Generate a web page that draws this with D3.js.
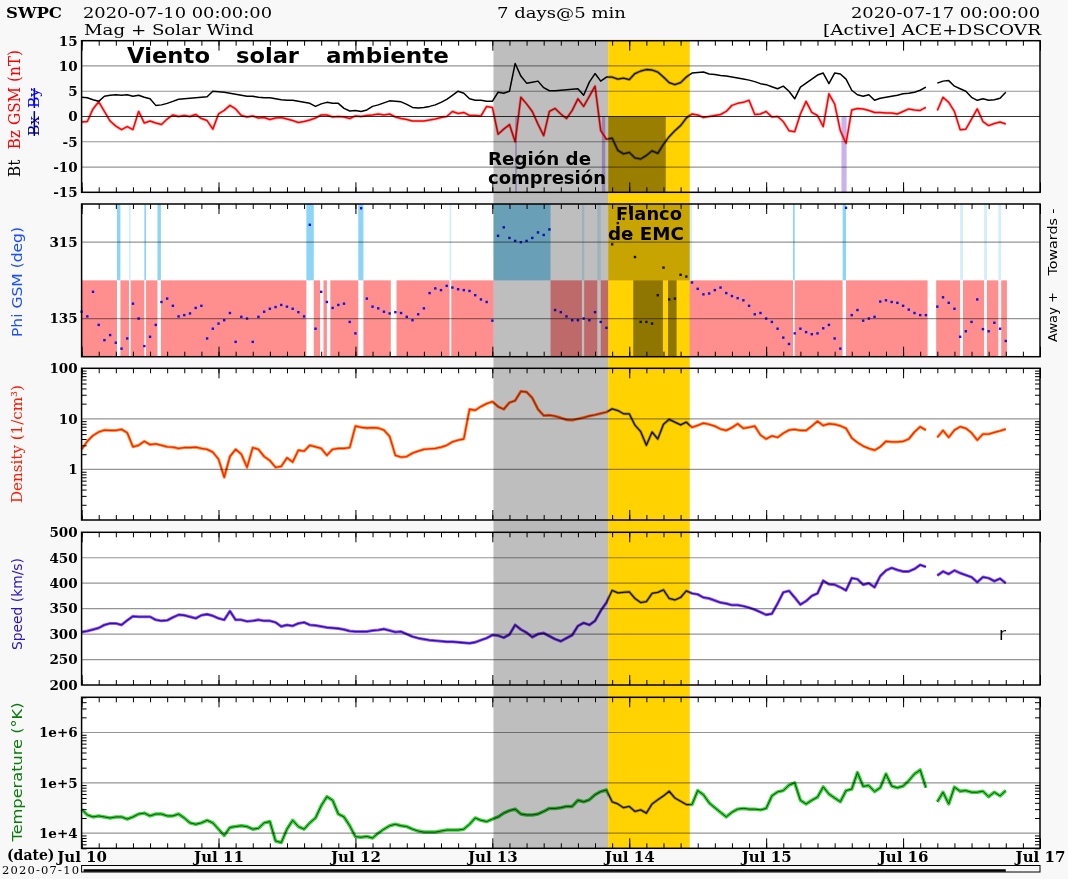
<!DOCTYPE html>
<html>
<head>
<meta charset="utf-8">
<script src="https://cdn.jsdelivr.net/npm/d3@7"></script>
<style>
  body { margin: 0; background: #f8f8f8; }
  svg { display: block; }
</style>
</head>
<body>
<svg id="chart" width="1068" height="879"></svg>
<script>
// hours since 2020-07-10 00:00 UT, one value per hour
var hours = d3.range(0, 163);

var bt = [3.8,3.7,3.3,3.0,4.0,4.2,4.3,4.2,4.3,4.0,
  4.2,3.8,3.5,2.2,2.3,2.6,3.0,3.4,3.5,3.6,
  3.7,3.8,3.9,5.0,4.9,4.8,4.6,4.4,4.2,4.0,
  4.0,3.8,3.7,3.7,3.5,3.3,3.2,3.2,3.0,2.8,
  2.6,2.0,2.5,2.8,2.6,2.6,1.6,1.1,1.2,1.0,
  1.3,2.0,2.3,2.7,3.1,3.0,2.9,2.4,1.8,1.7,
  1.8,2.0,2.3,2.8,3.4,4.2,5.0,4.6,3.5,3.2,
  3.2,3.0,3.0,4.8,4.6,5.0,10.5,8.0,6.6,6.8,
  7.0,5.7,5.1,5.1,5.2,5.3,5.4,5.5,4.2,6.8,
  8.5,7.0,7.8,7.8,7.4,7.6,7.3,8.5,9.0,9.3,
  9.2,8.8,7.8,6.7,6.3,6.7,7.8,8.6,8.7,8.8,
  8.4,8.3,8.1,8.0,7.8,7.6,7.4,7.2,6.9,6.5,
  6.3,5.9,5.5,6.0,5.0,3.5,5.8,6.6,7.4,8.2,
  8.6,6.5,8.6,8.4,7.4,5.2,4.3,4.0,4.3,3.2,
  3.6,3.8,4.0,4.2,4.5,4.6,4.8,5.2,5.8,null,
  6.6,7.0,7.1,6.0,5.5,5.0,3.8,3.2,3.5,3.2,
  3.3,3.6,4.8];

var bz = [-1.1,-1.0,1.5,2.9,1.0,-0.9,-1.9,-2.6,-2.0,-2.6,
  1.0,-1.3,-0.9,-1.3,-1.6,-0.5,0.3,0.0,0.2,0.0,
  0.4,-0.4,-0.8,-2.5,0.5,1.2,2.2,1.5,0.2,-0.1,
  0.1,-0.3,-0.2,-0.6,-0.3,-0.2,-0.5,-0.8,-1.2,-1.0,
  -0.7,-0.3,0.3,0.3,-0.1,0.0,-0.1,-0.4,0.1,0.0,
  0.2,0.3,0.5,0.3,0.5,-0.1,-0.4,-0.6,-0.9,-0.9,
  -0.9,-0.7,-0.5,-0.2,0.0,1.0,0.6,0.8,0.2,0.2,
  0.1,2.0,1.8,-3.5,-2.5,-1.6,-5.0,3.8,2.5,1.0,
  -1.5,-3.8,1.0,1.6,0.5,-0.4,1.2,3.5,2.0,4.0,
  6.0,-2.8,-4.5,-4.3,-6.7,-7.4,-7.1,-8.2,-8.4,-7.7,
  -6.8,-7.3,-5.5,-4.0,-2.8,-1.8,-0.3,0.5,0.3,-0.2,
  0.0,0.2,0.4,1.0,2.2,2.6,2.8,3.2,0.4,0.5,
  1.0,-0.1,0.0,-1.0,-2.8,-3.0,0.5,3.0,0.8,0.2,
  -2.0,4.5,2.5,-2.8,-5.3,1.3,1.6,1.5,1.2,0.8,
  0.8,0.7,0.7,0.5,1.0,1.5,1.3,1.2,1.8,null,
  1.2,3.8,2.8,1.0,-2.6,-2.5,-0.5,1.5,-1.0,-1.8,
  -1.4,-1.1,-1.5];

var phi = [151,140,198,120,84,96,78,64,88,170,
  135,70,92,120,174,182,165,140,143,147,
  160,165,88,111,123,131,148,80,139,135,
  80,139,151,158,162,167,163,158,150,140,
  356,111,198,174,160,167,170,127,100,395,
  182,163,159,151,147,150,148,139,131,145,
  159,195,206,202,212,208,204,202,200,190,
  180,174,130,330,350,325,318,315,318,325,
  338,332,345,155,150,140,131,131,135,131,
  150,127,113,310,360,370,330,280,127,127,
  123,190,255,180,182,238,234,220,205,192,
  194,202,208,195,188,183,178,165,145,148,
  135,127,111,90,75,100,111,103,98,100,
  112,120,88,64,396,143,155,130,135,139,
  175,178,174,172,165,156,148,143,143,null,
  163,185,172,158,92,105,127,180,110,105,
  125,111,82];

var density = [2.5,3.6,4.7,5.5,6.0,5.9,5.9,6.2,5.3,2.8,
  3.0,3.6,3.1,3.2,3.0,2.8,2.75,2.6,2.7,2.7,
  2.75,2.6,2.5,2.2,1.6,0.7,1.8,2.5,2.0,1.1,
  2.7,2.5,1.8,1.5,1.1,1.15,1.7,1.4,2.4,2.3,
  3.0,2.8,2.6,1.9,2.5,2.6,2.6,2.7,7.2,6.8,
  6.6,6.7,6.6,6.0,4.5,1.9,1.75,1.8,2.1,2.3,
  2.5,2.55,2.6,2.75,3.0,3.5,3.8,4.0,15.5,14.8,
  17.5,20,22,17.5,15.5,21,23,35,34,26,
  15.5,11.6,11.8,11.3,10.5,9.6,9.4,10.0,10.6,11.4,
  12.0,12.8,13.6,15.8,14.6,12.6,12.6,7.5,5.6,3.0,
  5.5,4.0,7.8,9.8,8.6,7.6,8.6,6.8,7.4,8.2,
  7.8,7.2,6.3,5.9,6.7,8.0,6.5,6.8,7.2,4.8,
  4.0,4.6,4.3,5.2,6.0,6.2,5.9,5.9,7.2,9.0,
  7.4,8.0,7.8,7.3,6.5,4.2,3.4,2.9,2.6,2.4,
  2.8,3.6,3.5,3.5,3.6,4.0,5.5,7.0,6.0,null,
  4.3,5.9,4.3,6.0,7.0,6.5,5.3,3.8,5.0,5.0,
  5.4,5.8,6.3];

var speed = [304,306,309,312,318,321,321,318,327,335,
  334,334,334,328,326,327,333,338,337,334,
  331,337,339,336,331,328,345,328,328,325,
  326,328,326,326,323,315,318,316,321,323,
  318,317,315,313,312,311,309,306,305,305,
  305,307,308,310,307,304,305,300,295,292,
  290,288,287,286,285,285,284,283,282,284,
  288,292,298,297,293,299,318,309,303,294,
  300,302,296,290,286,292,298,316,322,318,
  326,346,362,386,381,382,383,370,362,364,
  380,382,387,370,367,372,385,380,378,372,
  370,366,362,360,357,357,355,352,348,343,
  338,340,360,382,385,372,358,365,375,380,
  405,398,397,392,386,410,408,397,400,392,
  414,425,430,426,423,423,428,436,432,null,
  415,423,418,425,420,416,412,402,412,410,
  404,409,400];

var temperature = [3.0e4,2.3e4,2.1e4,2.2e4,2.1e4,2.0e4,2.1e4,2.1e4,1.9e4,2.1e4,
  2.4e4,2.5e4,2.2e4,2.4e4,2.4e4,2.2e4,2.2e4,2.4e4,2.0e4,1.6e4,
  1.5e4,1.6e4,1.8e4,1.6e4,1.2e4,0.9e4,1.3e4,1.35e4,1.4e4,1.35e4,
  1.2e4,1.25e4,1.6e4,1.7e4,7.0e3,6.5e3,1.2e4,1.8e4,1.35e4,1.2e4,
  1.6e4,2.0e4,3.5e4,5.3e4,4.5e4,2.4e4,2.1e4,1.4e4,8.5e3,8.3e3,
  8.6e3,8.0e3,1.0e4,1.2e4,1.4e4,1.5e4,1.4e4,1.35e4,1.2e4,1.1e4,
  1.05e4,1.05e4,1.05e4,1.1e4,1.15e4,1.15e4,1.15e4,1.2e4,1.5e4,2.0e4,
  1.8e4,1.7e4,1.9e4,2.1e4,2.5e4,2.8e4,3.0e4,2.4e4,2.3e4,2.3e4,
  2.4e4,2.7e4,3.1e4,3.1e4,3.2e4,3.4e4,3.4e4,4.5e4,4.2e4,4.6e4,
  5.8e4,6.7e4,7.2e4,4.2e4,3.8e4,3.2e4,3.4e4,2.7e4,2.9e4,2.5e4,
  3.8e4,4.6e4,5.5e4,6.8e4,5.0e4,4.3e4,3.7e4,3.7e4,7.0e4,5.8e4,
  4.0e4,3.2e4,2.6e4,2.1e4,2.6e4,3.0e4,3.1e4,3.0e4,3.0e4,2.9e4,
  3.1e4,5.5e4,6.6e4,7.0e4,9.0e4,1.0e5,4.5e4,3.8e4,4.5e4,5.2e4,
  8.3e4,6.0e4,5.0e4,4.2e4,7.0e4,7.5e4,1.6e5,8.5e4,8.8e4,6.7e4,
  8.0e4,1.5e5,8.6e4,8.0e4,8.6e4,1.1e5,1.5e5,1.8e5,8.0e4,null,
  4.2e4,6.5e4,3.8e4,8.2e4,6.8e4,7.0e4,6.5e4,6.5e4,6.8e4,5.3e4,
  6.5e4,5.5e4,7.0e4];

// IMF sector and southward-Bz intervals, [start hour, end hour]
var awaySectors = [[0,6.2],[6.8,8.3],[8.6,11.0],[11.3,13.3],[13.9,39.4],[40.7,41.8],[42.4,43.0],
  [43.6,48.5],[49.4,54.2],[55.2,64.5],[64.8,72.2],[82.2,87.7],[88.1,90.4],[91.0,92.3],
  [96.7,101.9],[102.8,104.3],[106.6,124.7],[125.0,133.4],[134.0,148.3],[149.8,154.0],
  [154.5,158.2],[158.7,160.7],[161.2,162.2]];
var towardsSectors = [[6.2,6.8],[11.0,11.3],[13.3,13.9],[39.4,40.7],[48.5,49.4],[72.2,82.2],
  [92.3,106.6],[124.7,125.0],[133.4,134.0]];
var towardsFaint = [[8.3,8.6],[64.5,64.8],[87.7,88.1],[90.4,91.0],[106.6,107.0],
  [154.0,154.5],[158.2,158.7],[160.7,161.2]];
var bzSouth = [[76.0,76.3],[91.2,91.8],[92.3,102.4],[133.2,134.1]];

var compressionRegion = [72.2, 92.3];
var cmeFlank = [92.3, 106.6];

var dayLabels = ["Jul 10","Jul 11","Jul 12","Jul 13","Jul 14","Jul 15","Jul 16","Jul 17"];
var bzTicks = [15,10,5,0,-5,-10,-15];
var phiTicks = [315,135];
var densityTicks = [100,10,1];
var speedTicks = [500,450,400,350,300,250,200];
var tempTicks = [1e6,1e5,1e4];

var W = 1068, H = 879;
var svg = d3.select("#chart");
svg.append("rect").attr("width", W).attr("height", H).attr("fill", "#f8f8f8");

var x = d3.scaleLinear().domain([0, 168]).range([81.6, 1040]);

var panels = [
  { top: 40.7, bottom: 192.3, y: d3.scaleLinear().domain([-15, 15]), ticks: bzTicks, grid: [10,5,0,-5,-10] },
  { top: 204, bottom: 356.7, y: d3.scaleLinear().domain([45, 405]), ticks: phiTicks, grid: phiTicks },
  { top: 368.3, bottom: 520, y: d3.scaleLog().domain([0.1, 100]), ticks: densityTicks, grid: [10,1], log: true },
  { top: 532.3, bottom: 685, y: d3.scaleLinear().domain([200, 500]), ticks: speedTicks, grid: [450,400,350,300,250] },
  { top: 697.3, bottom: 848.3, y: d3.scaleLog().domain([5e3, 5e6]), ticks: tempTicks, grid: tempTicks, log: true,
    fmt: function (d) { return "1e+" + Math.round(Math.log10(d)); } }
];
panels.forEach(function (p) { p.y.range([p.bottom, p.top]); });

svg.append("g").selectAll("rect").data(panels).join("rect")
  .attr("x", x(0)).attr("width", x(168) - x(0))
  .attr("y", function (d) { return d.top; })
  .attr("height", function (d) { return d.bottom - d.top; })
  .attr("fill", "#fff");

var normalStyle = {
  south: "#c9b2ee", away: "#ff8e8e", towards: "#8dd5f6", towardsFaint: "#d3effb",
  bt: { core: "#000", width: 1.5 },
  bz: { core: "#ff0000", width: 1.5, halo: "rgba(255,60,60,0.35)", haloWidth: 3 },
  phi: "#0a14e6",
  density: { core: "#ff1e00", width: 1.3, halo: "#ff9a3c", haloWidth: 3 },
  speed: { core: "#2a10b8", width: 1.3, halo: "#a05ae6", haloWidth: 3 },
  temp: { core: "#0b500b", width: 1, halo: "#3cd23c", haloWidth: 3.5 }
};
var darkLine = { core: "#111", width: 1.3, halo: "rgba(0,0,0,0.3)", haloWidth: 3 };
var flankStyle = {
  south: "rgba(0,0,0,0.4)", away: "rgba(0,0,0,0.44)", towards: "rgba(0,0,0,0.22)", towardsFaint: "rgba(0,0,0,0.1)",
  bt: darkLine, bz: darkLine, phi: "#111", density: darkLine, speed: darkLine, temp: darkLine
};

function series(values) {
  return hours.map(function (h, i) { return [h, values[i]]; });
}

function drawLine(g, p, values, st) {
  var line = d3.line()
    .defined(function (d) { return d[1] != null; })
    .x(function (d) { return x(d[0]); })
    .y(function (d) { return p.y(d[1]); });
  var data = series(values);
  if (st.halo) {
    g.append("path").datum(data).attr("d", line).attr("fill", "none")
      .attr("stroke", st.halo).attr("stroke-width", st.haloWidth).attr("stroke-linejoin", "round");
  }
  g.append("path").datum(data).attr("d", line).attr("fill", "none")
    .attr("stroke", st.core).attr("stroke-width", st.width).attr("stroke-linejoin", "round");
}

function intervalRects(g, list, y0, y1, fill) {
  g.append("g").selectAll("rect").data(list).join("rect")
    .attr("x", function (d) { return x(d[0]); })
    .attr("width", function (d) { return x(d[1]) - x(d[0]); })
    .attr("y", y0).attr("height", y1 - y0)
    .attr("fill", fill);
}

// everything that lives inside the plot areas
function drawContent(g, st) {
  var pm = panels[0], pp = panels[1];
  intervalRects(g, bzSouth, pm.y(0), pm.bottom, st.south);
  intervalRects(g, awaySectors, pp.y(225), pp.bottom, st.away);
  intervalRects(g, towardsSectors, pp.top, pp.y(225), st.towards);
  intervalRects(g, towardsFaint, pp.top, pp.y(225), st.towardsFaint);

  drawLine(g, pm, bz, st.bz);
  drawLine(g, pm, bt, st.bt);
  g.append("g").selectAll("rect")
    .data(series(phi).filter(function (d) { return d[1] != null; }))
    .join("rect")
    .attr("x", function (d) { return x(d[0]) - 1.2; })
    .attr("y", function (d) { return pp.y(d[1]) - 1.2; })
    .attr("width", 2.4).attr("height", 2.4)
    .attr("fill", st.phi);
  drawLine(g, panels[2], density, st.density);
  drawLine(g, panels[3], speed, st.speed);
  drawLine(g, panels[4], temperature, st.temp);
}

drawContent(svg.append("g"), normalStyle);

// highlighted intervals
var bandTop = panels[0].top, bandBottom = panels[4].bottom;
svg.append("rect")
  .attr("x", x(compressionRegion[0])).attr("width", x(compressionRegion[1]) - x(compressionRegion[0]))
  .attr("y", bandTop).attr("height", bandBottom - bandTop)
  .attr("fill", "#bebebe").style("mix-blend-mode", "multiply");
svg.append("rect")
  .attr("x", x(cmeFlank[0])).attr("width", x(cmeFlank[1]) - x(cmeFlank[0]))
  .attr("y", bandTop).attr("height", bandBottom - bandTop)
  .attr("fill", "#ffd200");
svg.append("clipPath").attr("id", "flankClip").append("rect")
  .attr("x", x(cmeFlank[0])).attr("width", x(cmeFlank[1]) - x(cmeFlank[0]))
  .attr("y", bandTop).attr("height", bandBottom - bandTop);
drawContent(svg.append("g").attr("clip-path", "url(#flankClip)"), flankStyle);

// grid, ticks, frames
var minorHours = d3.range(0, 169, 3);
var dayHours = d3.range(0, 169, 24);

function noDomain(a) { a.select(".domain").remove(); }

panels.forEach(function (p) {
  var g = svg.append("g");
  g.selectAll("line").data(p.grid).join("line")
    .attr("x1", x(0)).attr("x2", x(168))
    .attr("y1", function (d) { return p.y(d); })
    .attr("y2", function (d) { return p.y(d); })
    .attr("stroke", function (d) { return d === 0 ? "rgba(0,0,0,0.8)" : "rgba(0,0,0,0.42)"; })
    .attr("stroke-width", 1.2);

  [[minorHours, 5], [dayHours, 10]].forEach(function (t) {
    g.append("g").attr("transform", "translate(0," + p.top + ")")
      .call(d3.axisTop(x).tickValues(t[0]).tickSize(-t[1]).tickFormat("")).call(noDomain);
    g.append("g").attr("transform", "translate(0," + p.bottom + ")")
      .call(d3.axisBottom(x).tickValues(t[0]).tickSize(-t[1]).tickFormat("")).call(noDomain);
  });

  if (p.log) {
    var d = p.y.domain();
    var minor = [];
    for (var e = Math.floor(Math.log10(d[0])); e <= Math.ceil(Math.log10(d[1])); e++) {
      for (var k = 2; k <= 9; k++) {
        var v = k * Math.pow(10, e);
        if (v >= d[0] && v <= d[1]) minor.push(v);
      }
    }
    g.append("g").attr("transform", "translate(" + x(0) + ",0)")
      .call(d3.axisLeft(p.y).tickValues(minor).tickSize(-5).tickFormat("")).call(noDomain);
    g.append("g").attr("transform", "translate(" + x(168) + ",0)")
      .call(d3.axisRight(p.y).tickValues(minor).tickSize(-5).tickFormat("")).call(noDomain);
  }

  var ya = g.append("g").attr("transform", "translate(" + (x(0) - 1) + ",0)")
    .call(d3.axisLeft(p.y).tickValues(p.ticks).tickSize(0).tickPadding(3)
      .tickFormat(p.fmt || function (v) { return String(v); }))
    .call(noDomain);
  ya.attr("font-family", "DejaVu Serif, serif").attr("font-size", 13.5).attr("font-weight", "bold");

  g.append("rect").attr("x", x(0)).attr("y", p.top)
    .attr("width", x(168) - x(0)).attr("height", p.bottom - p.top)
    .attr("fill", "none").attr("stroke", "#000").attr("stroke-width", 1.5);
});

// date axis under the last panel
var xa = svg.append("g").attr("transform", "translate(0," + panels[4].bottom + ")")
  .call(d3.axisBottom(x).tickValues(dayHours).tickSize(0).tickPadding(3)
    .tickFormat(function (d, i) { return dayLabels[i]; }))
  .call(noDomain);
xa.attr("font-family", "DejaVu Serif, serif").attr("font-size", 15).attr("font-weight", "bold");
xa.selectAll("text").attr("fill", "#000");

svg.append("text").attr("x", 7).attr("y", 860).text("(date)")
  .attr("font-family", "DejaVu Serif, serif").attr("font-size", 14).attr("font-weight", "bold");
svg.append("text").attr("x", 2).attr("y", 874).text("2020-07-10")
  .attr("font-family", "DejaVu Serif, serif").attr("font-size", 11.5).attr("textLength", 77);

// data extent bar
svg.append("rect").attr("x", x(0)).attr("y", 865.5).attr("width", x(168) - x(0)).attr("height", 6.5)
  .attr("fill", "none").attr("stroke", "#000").attr("stroke-width", 1);
svg.append("line").attr("x1", x(0) + 2).attr("x2", x(hours[hours.length - 1]))
  .attr("y1", 870.5).attr("y2", 870.5).attr("stroke", "#000").attr("stroke-width", 2.5);

// header
function label(txt, xx, yy, opts) {
  var t = svg.append("text").attr("x", xx).attr("y", yy).text(txt)
    .attr("font-family", opts.family || "DejaVu Serif, serif")
    .attr("font-size", opts.size || 15)
    .attr("font-weight", opts.weight || "normal")
    .attr("text-anchor", opts.anchor || "start")
    .attr("fill", opts.fill || "#000");
  if (opts.len) t.attr("textLength", opts.len).attr("lengthAdjust", "spacingAndGlyphs");
  return t;
}
label("SWPC", 6, 17.5, { weight: "bold", size: 14, len: 56 });
label("2020-07-10 00:00:00", 83, 18, { size: 14, len: 189 });
label("Mag + Solar Wind", 84, 34.5, { size: 14, len: 170 });
label("7 days@5 min", 497, 18, { size: 14, len: 129 });
label("2020-07-17 00:00:00", 1040, 18, { size: 14, len: 189, anchor: "end" });
label("[Active] ACE+DSCOVR", 1041, 34.5, { size: 14, len: 218, anchor: "end" });

// rotated axis titles
function vtitle(cx, cy, anchor, parts, opts) {
  var t = svg.append("text")
    .attr("transform", "translate(" + cx + "," + cy + ") rotate(-90)")
    .attr("text-anchor", anchor)
    .attr("font-family", opts.family || "DejaVu Serif, serif")
    .attr("font-size", opts.size || 15);
  if (opts.len) t.attr("textLength", opts.len).attr("lengthAdjust", "spacingAndGlyphs");
  parts.forEach(function (pt) {
    var s = t.append("tspan").text(pt.text).attr("fill", pt.fill || "#000");
    if (pt.dx) s.attr("dx", pt.dx);
    if (pt.strike) s.style("text-decoration", "line-through");
  });
  return t;
}
vtitle(20, 177, "start", [{ text: "Bt" }, { text: "Bz GSM (nT)", fill: "#ff0000", dx: 11 }], { size: 16, len: 127 });
vtitle(39, 136, "start", [{ text: " Bx ", fill: "#00008b", strike: true }, { text: " By ", fill: "#0000ff", dx: 3, strike: true }], { size: 15, len: 48 });
vtitle(22, 282, "middle", [{ text: "Phi GSM (deg)", fill: "#1a50ff" }], { family: "DejaVu Sans, sans-serif", size: 14, len: 110 });
vtitle(22, 444, "middle", [{ text: "Density (1/cm\u00b3)", fill: "#ff1a00" }], { size: 14, len: 118 });
vtitle(22, 604, "middle", [{ text: "Speed (km/s)", fill: "#2a14c0" }], { family: "DejaVu Sans, sans-serif", size: 14, len: 92 });
vtitle(22, 772, "middle", [{ text: "Temperature (\u00b0K)", fill: "#0a7a0a" }], { family: "DejaVu Sans, sans-serif", size: 14, len: 139 });
vtitle(1057, 242, "middle", [{ text: "Towards -" }], { family: "DejaVu Sans, sans-serif", size: 13, len: 67 });
vtitle(1057, 317, "middle", [{ text: "Away +" }], { family: "DejaVu Sans, sans-serif", size: 13, len: 50 });

// annotations on the plot
var ann = { family: "DejaVu Sans, sans-serif", weight: "bold" };
label("Viento", 127, 63, Object.assign({ size: 22, len: 83 }, ann));
label("solar", 236, 63, Object.assign({ size: 22, len: 63 }, ann));
label("ambiente", 326, 63, Object.assign({ size: 22, len: 123 }, ann));
label("Regi\u00f3n de", 488, 165, Object.assign({ size: 17, len: 103 }, ann));
label("compresi\u00f3n", 488, 184, Object.assign({ size: 17, len: 118 }, ann));
label("Flanco", 616, 220, Object.assign({ size: 17, len: 66 }, ann));
label("de EMC", 608, 240, Object.assign({ size: 17, len: 76 }, ann));
label("r", 999, 640, { family: "DejaVu Sans, sans-serif", size: 17 });
</script>
</body>
</html>
